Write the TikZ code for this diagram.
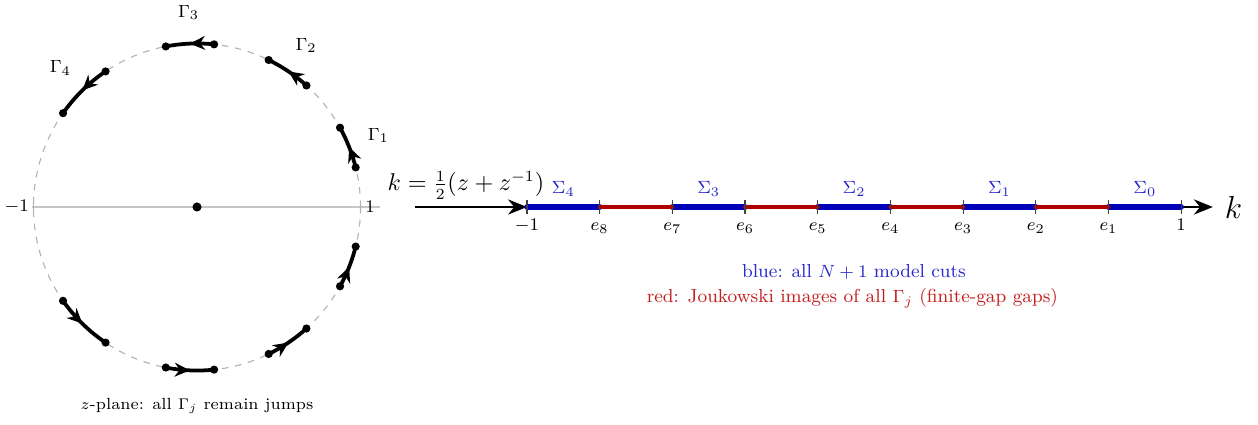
\documentclass[tikz,border=0pt]{standalone}
\usepackage{amsmath}
\usetikzlibrary{arrows.meta,decorations.markings,calc}

\definecolor{cutblue}{RGB}{0,0,185}
\definecolor{gapred}{RGB}{175,0,0}
\definecolor{txtblue}{RGB}{40,40,205}
\definecolor{txtred}{RGB}{195,30,30}

\tikzset{
  dot/.style={circle,fill=black,inner sep=0pt,minimum size=1.3mm},
  gam/.style={line width=1.7pt,postaction={decorate},
    decoration={markings,mark=at position .5 with {\arrow{Stealth[length=2.4mm,width=2.2mm]}}}},
  cut/.style={line width=2.5pt,cutblue,line cap=round},
  gap/.style={line width=1.9pt,gapred,line cap=round},
  tick/.style={line width=.5pt,black!75},
  capfont/.style={font=\fontsize{8.5}{10}\selectfont},
}

\begin{document}
\begin{tikzpicture}[x=1cm,y=1cm,line width=.35pt,font=\footnotesize]
\useasboundingbox (-3.132,-3.450) rectangle (16.868,3.291);
\def\R{2.6}
% z-plane
\draw[gray!45,line width=.6pt] (-2.62,0)--(2.91,0);
\draw[gray!60,dashed,line width=.5pt] (0,0) circle (\R);
\draw[gray!60] (-\R,-.08)--(-\R,.08) (\R,-.08)--(\R,.08);
\node[left,inner sep=2pt] (zm) at (-\R,0) {$-1$};
\node[right,inner sep=2pt] (zp) at (\R,0) {$1$};
\node[dot,minimum size=1.45mm] (z0) at (0,0) {};
\foreach \n/\a/\b in {1/14/29,2/48/64,3/84/101,4/124/145}{
  \node[dot] (g\n-a) at (\a:\R) {};
  \node[dot] (g\n-b) at (\b:\R) {};
  \draw[gam] (g\n-a) arc[start angle=\a,end angle=\b,radius=\R];
  \node[dot] (h\n-a) at (-\b:\R) {};
  \node[dot] (h\n-b) at (-\a:\R) {};
  \draw[gam] (h\n-a) arc[start angle=-\b,end angle=-\a,radius=\R];
  \node (lab\n) at ({(\a+\b)/2}:3.1) {$\Gamma_{\n}$};
}
\node[font=\fontsize{7.3}{9}\selectfont] (zcap) at (0,-3.16) {$z$-plane: all $\Gamma_j$ remain jumps};
% Joukowski map
\foreach \i/\nm in {0/km,1/e8,2/e7,3/e6,4/e5,5/e4,6/e3,7/e2,8/e1,9/kp}{
  \coordinate (\nm) at ({5.246+\i*1.1556},0);
}
\coordinate (jz) at (3.466,0);
\coordinate (kend) at (16.15,0);
\draw[line width=1.2pt,-{Stealth[length=3mm,width=2.4mm]}] (jz)--(km)
  node[pos=.455,above=2pt,inner sep=1pt,font=\fontsize{10.6}{12}\selectfont] (jmap) {$k=\tfrac12(z+z^{-1})$};
\draw[line width=1.2pt,-{Stealth[length=3mm,width=2.4mm]}] (kp)--(kend);
\node[font=\Large] (klab) at (16.48,0) {$k$};
\draw[cut] (km)--(e8);
\draw[cut] (e7)--(e6);
\draw[cut] (e5)--(e4);
\draw[cut] (e3)--(e2);
\draw[cut] (e1)--(kp);
\draw[gap] (e8)--(e7);
\draw[gap] (e6)--(e5);
\draw[gap] (e4)--(e3);
\draw[gap] (e2)--(e1);
\foreach \nm/\lab in {km/{-1},e8/{e_8},e7/{e_7},e6/{e_6},e5/{e_5},
  e4/{e_4},e3/{e_3},e2/{e_2},e1/{e_1},kp/{1}}{
  \draw[tick] ([yshift=-.11cm]\nm)--([yshift=.11cm]\nm);
  \node[anchor=base,inner sep=0pt] (t-\nm) at ([yshift=-.38cm]\nm) {$\lab$};
}
\foreach \s/\u/\v in {4/km/e8,3/e7/e6,2/e5/e4,1/e3/e2,0/e1/kp}{
  \node[txtblue,anchor=base,inner sep=0pt] (sig\s) at ($(\u)!.5!(\v)+(0,.21)$) {$\Sigma_{\s}$};
}
\node[txtblue,capfont] (capb) at (10.445,-1.033) {blue: all $N+1$ model cuts};
\node[txtred,capfont] (capr) at (10.42,-1.447) {red: Joukowski images of all $\Gamma_j$ (finite-gap gaps)};
\end{tikzpicture}
\end{document}
